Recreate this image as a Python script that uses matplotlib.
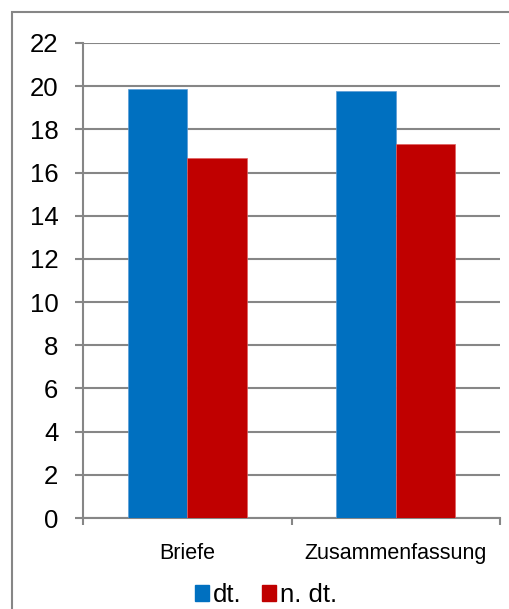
import numpy as np
import matplotlib
matplotlib.use("Agg")
import matplotlib.pyplot as plt
from matplotlib.patches import Rectangle, Patch

categories = ["Briefe", "Zusammenfassung"]
dt_vals = [19.86, 19.79]
ndt_vals = [16.67, 17.31]
series_names = ["dt.", "n. dt."]
yticks = list(range(0, 23, 2))

plt.rcParams['font.family'] = ['Liberation Sans', 'DejaVu Sans']

fig = plt.figure(figsize=(5.09, 6.09), dpi=100)
# outer chart frame
fig.patches.append(Rectangle((12 / 509, -0.05), 1.0, 1 - 12 / 609 + 0.05,
                             transform=fig.transFigure, fill=False,
                             edgecolor="#868686", linewidth=1.5))

ax = fig.add_axes([83 / 509, 1 - 518 / 609, (500 - 83) / 509, (518 - 43) / 609])
x = np.arange(len(categories))
w = 0.286
ax.bar(x - w / 2, dt_vals, w, color="#0070C0", edgecolor="#5B9BD5", linewidth=0.5, zorder=3)
ax.bar(x + w / 2, ndt_vals, w, color="#C00000", edgecolor="#E06060", linewidth=0.5, zorder=3)

ax.set_xlim(-0.5, len(categories) - 0.5)
ax.set_ylim(0, 22)
ax.set_yticks(yticks)
ax.set_yticklabels([str(v) for v in yticks], fontsize=18.5)
ax.yaxis.grid(True, color="#868686", linewidth=1.5, zorder=0)
ax.tick_params(axis="y", length=5.8, width=1.5, color="#868686", pad=12)

ax.set_xticks([-0.5, 0.5, 1.5])
ax.set_xticklabels([])
ax.set_xticks(x, minor=True)
ax.set_xticklabels(categories, minor=True, fontsize=15.5)
ax.tick_params(axis="x", which="major", length=5, width=1.5, color="#868686")
ax.tick_params(axis="x", which="minor", length=0, pad=18)

for s in ["top", "right"]:
    ax.spines[s].set_visible(False)
for s in ["left", "bottom"]:
    ax.spines[s].set_color("#868686")
    ax.spines[s].set_linewidth(1.5)

handles = [Patch(color="#0070C0"), Patch(color="#C00000")]
fig.legend(handles, series_names, loc="center", bbox_to_anchor=(266 / 509, 1 - 595 / 609),
           ncol=2, frameon=False, fontsize=18.5, handlelength=0.55, handleheight=0.55,
           handletextpad=0.15, columnspacing=0.8, borderpad=0)

fig.savefig("out.png", dpi=100)
